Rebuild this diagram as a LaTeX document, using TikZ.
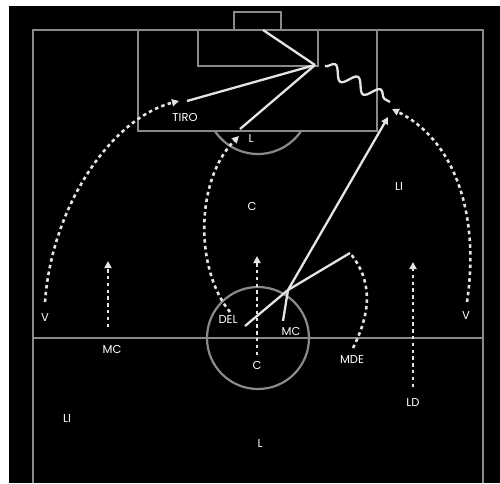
\documentclass[tikz,border=0pt]{standalone}
\usepackage{fontspec}
\setmainfont{Poppins}
\usetikzlibrary{arrows.meta,decorations.pathmorphing}
\definecolor{fieldgray}{HTML}{8A8A8A}
\definecolor{linewhite}{HTML}{E4E4E4}
\begin{document}
\begin{tikzpicture}[x=1pt,y=-1pt,
 field/.style={draw=fieldgray,line width=2.2pt},
 move/.style={draw=linewhite,line width=2.3pt},
 run/.style={draw=linewhite,line width=2.6pt,dash pattern=on 3.5pt off 3.3pt},
 tip/.style={-{Triangle[length=7pt,width=7pt]}},
 lab/.style={text=white,font=\fontsize{11.5}{13}\selectfont,inner sep=0pt}]
\useasboundingbox (0,0) rectangle (500,483);
\fill[white] (0,0) rectangle (500,483);
\fill[black] (9,6) rectangle (500,483);
% field
\draw[field] (33,483) -- (33,30) -- (483,30) -- (483,483);
\draw[field] (234,30) -- (234,12) -- (281,12) -- (281,30);
\draw[field] (138,30) -- (138,131) -- (377,131) -- (377,30);
\draw[field] (198,30) -- (198,66) -- (318,66) -- (318,30);
\draw[field] (214.8,131) arc[start angle=213.9,end angle=326.1,radius=52pt];
\draw[field] (33,338) -- (483,338);
\draw[field] (258,338) circle[radius=51pt];
% coordinates
\coordinate (P) at (315,65);
\coordinate (Q) at (288,290);
\coordinate (goalPost) at (263,30);
\coordinate (tiroEnd) at (187,101);
\coordinate (lEnd) at (240,129);
\coordinate (delStart) at (245,326);
\coordinate (mdeEnd) at (350,253);
\coordinate (mcEnd) at (283,321);
\coordinate (crossEnd) at (388,117);
\coordinate (waveStart) at (325,66);
\coordinate (waveEnd) at (390,102);
% solid moves
\draw[move] (goalPost) -- (P);
\draw[move] (P) -- (tiroEnd);
\draw[move] (P) -- (lEnd);
\draw[move] (delStart) -- (Q);
\draw[move] (Q) -- (mdeEnd);
\draw[move] (Q) -- (mcEnd);
\draw[move,tip] (Q) -- (crossEnd);
\draw[move,decorate,decoration={snake,segment length=26pt,amplitude=6.5pt}] (waveStart) -- (waveEnd);
% runs
\coordinate (vlStart) at (45,302);
\coordinate (vlEnd) at (179,101);
\coordinate (vrStart) at (467,302);
\coordinate (vrEnd) at (392,109);
\coordinate (mclStart) at (108,327);
\coordinate (mclEnd) at (108,261);
\coordinate (ldStart) at (413,387);
\coordinate (ldEnd) at (413,262);
\coordinate (cStart) at (257,355);
\coordinate (cEnd) at (257,256);
\coordinate (mdeStart) at (353,348);
\coordinate (delRunStart) at (230,312);
\coordinate (delRunEnd) at (239,136);
\draw[run,tip] (vlStart) .. controls (52,205) and (112,118) .. (vlEnd);
\draw[run,tip] (vrStart) .. controls (480,215) and (455,140) .. (vrEnd);
\draw[run,tip] (mclStart) -- (mclEnd);
\draw[run,tip] (ldStart) -- (ldEnd);
\draw[run,tip] (cStart) -- (cEnd);
\draw[run] (mdeStart) .. controls (372,310) and (372,280) .. (mdeEnd);
\draw[run,tip] (delRunStart) .. controls (195,270) and (195,180) .. (delRunEnd);
% labels
\node[lab] (tiro) at (185,117) {TIRO};
\node[lab] (lTop) at (251,138) {L};
\node[lab] (cTop) at (252,206) {C};
\node[lab] (liTop) at (399,186) {LI};
\node[lab] (vLeft) at (45,317) {V};
\node[lab] (mcLeft) at (112,349) {MC};
\node[lab] (del) at (228,319) {DEL};
\node[lab] (mcMid) at (291,331) {MC};
\node[lab] (cBot) at (257,365) {C};
\node[lab] (mde) at (352,359) {MDE};
\node[lab] (vRight) at (466,315) {V};
\node[lab] (ld) at (413,402) {LD};
\node[lab] (liBot) at (67,418) {LI};
\node[lab] (lBot) at (260,443) {L};
\end{tikzpicture}
\end{document}
